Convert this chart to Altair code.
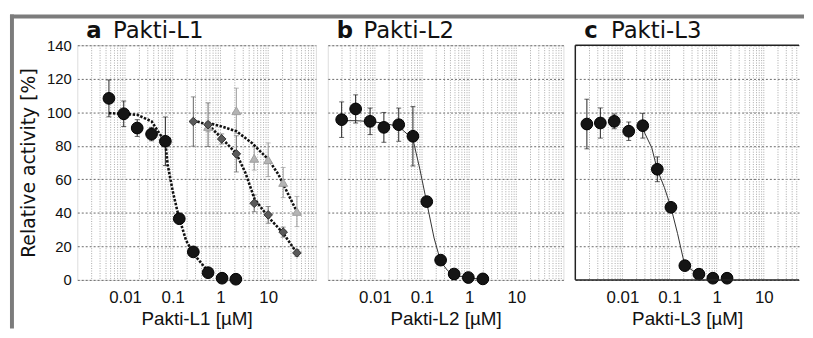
import altair as alt
import pandas as pd

# ---------------- data ----------------
# panel a (Pakti-L1): circles, diamonds, triangles
a_circ_x = [0.0046, 0.0094, 0.018, 0.036, 0.070, 0.137, 0.27, 0.55, 1.08, 2.1]
a_circ_y = [108.3, 99.1, 90.6, 87.0, 82.7, 36.5, 16.7, 4.3, 1.0, 0.4]
a_circ_e = [11.0, 7.6, 5.0, 4.0, 14.5, 2.0, 1.5, 1.0, 0.5, 0.5]

a_diam_x = [0.27, 0.55, 1.06, 2.15, 5.1, 10.0, 20.6, 40.0]
a_diam_y = [94.5, 92.6, 84.1, 75.2, 45.7, 38.8, 28.5, 16.1]
a_diam_e = [14.7, 13.0, 3.0, 10.8, 5.0, 5.0, 3.0, 2.0]

a_tri_x = [0.55, 2.15, 5.1, 10.0, 20.6, 40.0]
a_tri_y = [91.5, 100.9, 72.5, 71.7, 58.1, 40.8]
a_tri_e = [3.0, 13.5, 7.0, 10.0, 9.0, 9.0]

a_fit_circ_x = [0.0046, 0.0094, 0.018, 0.036, 0.070, 0.078, 0.0995, 0.13, 0.19, 0.27, 0.55]
a_fit_circ_y = [99.5, 99.1, 98.5, 94.6, 82.0, 69.0, 53.2, 39.0, 23.6, 15.8, 5.0]
a_fit_diam_x = [0.272, 0.548, 1.05, 2.16, 3.32, 5.18, 10.1, 20.7, 40.4]
a_fit_diam_y = [95.1, 92.6, 84.7, 75.3, 64.0, 48.3, 37.4, 27.9, 15.8]
a_fit_tri_x = [0.548, 1.05, 2.16, 4.55, 10.1, 16.3, 26.2, 40.4]
a_fit_tri_y = [93.6, 91.6, 88.7, 81.7, 71.9, 63.0, 51.2, 40.4]

# panel b (Pakti-L2)
b_x = [0.00197, 0.0039, 0.0079, 0.0155, 0.032, 0.064, 0.126, 0.248, 0.48, 0.96, 1.95]
b_y = [95.6, 102.0, 94.6, 91.0, 92.6, 85.7, 46.7, 11.8, 3.5, 1.4, 0.6]
b_e = [10.6, 8.4, 7.9, 8.9, 9.9, 17.7, 2.0, 1.0, 1.0, 0.5, 0.5]
b_fit_x = [0.00197, 0.0039, 0.0079, 0.0155, 0.032, 0.064, 0.09, 0.126, 0.18, 0.248, 0.35, 0.48, 0.96, 1.95]
b_fit_y = [95.0, 95.0, 94.5, 93.5, 91.5, 84.0, 66.0, 46.0, 25.0, 11.0, 5.5, 3.0, 1.0, 0.5]

# panel c (Pakti-L3)
c_x = [0.00176, 0.0034, 0.0067, 0.0136, 0.027, 0.055, 0.107, 0.211, 0.42, 0.83, 1.66]
c_y = [93.0, 93.6, 94.6, 88.7, 92.0, 66.0, 43.3, 8.5, 3.4, 1.0, 1.0]
c_e = [14.8, 9.0, 4.4, 5.5, 7.4, 7.4, 1.5, 1.0, 1.0, 0.5, 0.5]
c_fit_x = [0.027, 0.0296, 0.042, 0.0546, 0.0778, 0.107, 0.148, 0.211, 0.42]
c_fit_y = [92.0, 87.7, 78.8, 66.0, 55.1, 43.3, 27.6, 8.5, 3.4]

y_ticks = [0, 20, 40, 60, 80, 100, 120, 140]
x_labels = [0.01, 0.1, 1, 10]
panel_letters = ["a", "b", "c"]
panel_names = ["Pakti-L1", "Pakti-L2", "Pakti-L3"]
x_titles = ["Pakti-L1 [µM]", "Pakti-L2 [µM]", "Pakti-L3 [µM]"]

H = 237
FONT = "Liberation Sans"


def pts(xs, ys, es):
    return pd.DataFrame({"x": xs, "y": ys, "lo": [y - e for y, e in zip(ys, es)],
                         "hi": [y + e for y, e in zip(ys, es)]})


def grid_values(xmax):
    vals = []
    for n in range(-3, 2):
        for k in range(1, 10):
            v = round(k * 10.0 ** n, 6)
            if 0.001 < v < xmax:
                vals.append(v)
    return vals


def make_panel(idx, width, xmax, series, fits, fit_style, show_y, open_right=False):
    xscale = alt.Scale(type="log", domain=[0.001, xmax], nice=False)
    yscale = alt.Scale(domain=[0, 140], nice=False, zero=False)
    xaxis = alt.Axis(values=x_labels, format="~g", ticks=False, domain=False, grid=False,
                     labelFont=FONT, labelFontSize=17, labelColor="#111", labelPadding=10,
                     labelOverlap=False, labelFlush=False,
                     title=x_titles[idx], titleFont=FONT, titleFontSize=19,
                     titleFontWeight="normal", titleColor="#111", titlePadding=4)
    if show_y:
        yaxis = alt.Axis(values=y_ticks, ticks=False, domain=False, grid=True,
                         gridColor="#6a6a6a", gridDash=[2, 2], gridWidth=1,
                         labelFont=FONT, labelFontSize=15, labelColor="#111", labelPadding=6,
                         labelOverlap=False, labelFlush=False, labelBound=False,
                         title="Relative activity [%]", titleFont="DejaVu Sans", titleFontSize=19,
                         titleFontWeight="normal", titleColor="#111", titlePadding=8)
    else:
        yaxis = alt.Axis(values=y_ticks, ticks=False, domain=False, grid=True, labels=False,
                         gridColor="#6a6a6a", gridDash=[2, 2], gridWidth=1, title=None)

    X = lambda f="x": alt.X(f + ":Q", scale=xscale, axis=xaxis)
    Y = lambda f="y": alt.Y(f + ":Q", scale=yscale, axis=yaxis)

    layers = []
    # minor log grid (vertical), drawn through the x scale
    gdf = pd.DataFrame({"x": grid_values(xmax)})
    layers.append(alt.Chart(gdf).mark_rule(color="#a8a8a8", strokeWidth=1, strokeDash=[1, 1.5]).encode(
        x=X(), y=alt.value(0), y2=alt.value(H)))
    # error bars
    for (df, shape, fill, stroke, size, ecol) in series:
        rule = alt.Chart(df).mark_rule(color=ecol, strokeWidth=1).encode(
            x=X(), y=Y("lo"), y2="hi:Q")
        cap_hi = alt.Chart(df).mark_tick(orient="horizontal", size=5, thickness=1, color=ecol).encode(
            x=X(), y=Y("hi"))
        cap_lo = alt.Chart(df).mark_tick(orient="horizontal", size=5, thickness=1, color=ecol).encode(
            x=X(), y=Y("lo"))
        layers += [rule, cap_hi, cap_lo]
    # fitted curves
    for fdf in fits:
        layers.append(alt.Chart(fdf).mark_line(**fit_style).encode(x=X(), y=Y(), order="x:Q"))
    # points
    for (df, shape, fill, stroke, size, ecol) in series[::-1]:
        layers.append(alt.Chart(df).mark_point(shape=shape, filled=True, fill=fill, stroke=stroke,
                                               strokeWidth=1, size=size, opacity=1).encode(
            x=X(), y=Y()))
    # panel title
    tdf = pd.DataFrame({"letter": [panel_letters[idx]], "name": [panel_names[idx]]})
    layers.append(alt.Chart(tdf).mark_text(align="left", baseline="alphabetic", font="DejaVu Sans",
                                           fontSize=23, fontWeight="bold", color="#111").encode(
        x=alt.value(9), y=alt.value(-7), text="letter:N"))
    layers.append(alt.Chart(tdf).mark_text(align="left", baseline="alphabetic", font="DejaVu Sans",
                                           fontSize=23, color="#111").encode(
        x=alt.value(36), y=alt.value(-7), text="name:N"))
    if open_right:
        # plot border without right edge (the reference is cut off there)
        bdf = pd.DataFrame({"k": ["border"]})
        layers.append(alt.Chart(bdf).mark_rule(color="#222", strokeWidth=1.5).encode(
            x=alt.value(0), x2=alt.value(width), y=alt.value(0)))
        layers.append(alt.Chart(bdf).mark_rule(color="#222", strokeWidth=1.5).encode(
            x=alt.value(0), x2=alt.value(width), y=alt.value(H)))
        layers.append(alt.Chart(bdf).mark_rule(color="#222", strokeWidth=1.5).encode(
            x=alt.value(0), y=alt.value(0), y2=alt.value(H)))
        return alt.layer(*layers).properties(width=width, height=H,
                                             view=alt.ViewBackground(strokeOpacity=0))
    return alt.layer(*layers).properties(width=width, height=H)


a_series = [
    (pts(a_circ_x, a_circ_y, a_circ_e), "circle", "#151515", "#000000", 140, "#222222"),
    (pts(a_diam_x, a_diam_y, a_diam_e), "diamond", "#5a5a5a", "#333333", 75, "#666666"),
    (pts(a_tri_x, a_tri_y, a_tri_e), "triangle-up", "#b4b4b4", "#a0a0a0", 80, "#9a9a9a"),
]
a_fits = [pd.DataFrame({"x": a_fit_circ_x, "y": a_fit_circ_y}),
          pd.DataFrame({"x": a_fit_diam_x, "y": a_fit_diam_y}),
          pd.DataFrame({"x": a_fit_tri_x, "y": a_fit_tri_y})]
dotted = dict(color="#111", strokeWidth=2.6, strokeDash=[2.5, 1.5])
thin = dict(color="#333", strokeWidth=1)

pa = make_panel(0, 241, 100, a_series, a_fits, dotted, True)

# outer frame of the figure (decoration bands, drawn with panel a)
top_band = pd.DataFrame({"k": ["top"]})
left_band = pd.DataFrame({"k": ["left"]})
frame_top = alt.Chart(top_band).mark_rect(color="#7c7c7c").encode(
    x=alt.value(-68), x2=alt.value(734), y=alt.value(-31), y2=alt.value(-27))
frame_left = alt.Chart(left_band).mark_rect(color="#7c7c7c").encode(
    x=alt.value(-68), x2=alt.value(-64), y=alt.value(-31), y2=alt.value(286))
pa = alt.layer(pa, frame_top, frame_left)

pb = make_panel(1, 238, 100, [(pts(b_x, b_y, b_e), "circle", "#151515", "#000", 140, "#222")],
                [pd.DataFrame({"x": b_fit_x, "y": b_fit_y})], thin, False)
pc = make_panel(2, 226, 56, [(pts(c_x, c_y, c_e), "circle", "#151515", "#000", 140, "#222")],
                [pd.DataFrame({"x": c_fit_x, "y": c_fit_y})], thin, False, open_right=True)

chart = alt.hconcat(pa, pb, pc, spacing=12, bounds="flush").properties(
    padding={"left": 1, "top": 4, "right": 0, "bottom": 0}
).configure_view(stroke="#222", strokeWidth=1.5).configure_axisY(labelOverlap=False).configure(
    background="white")

chart.save("out.html", embed_options={"renderer": "svg", "actions": False})
